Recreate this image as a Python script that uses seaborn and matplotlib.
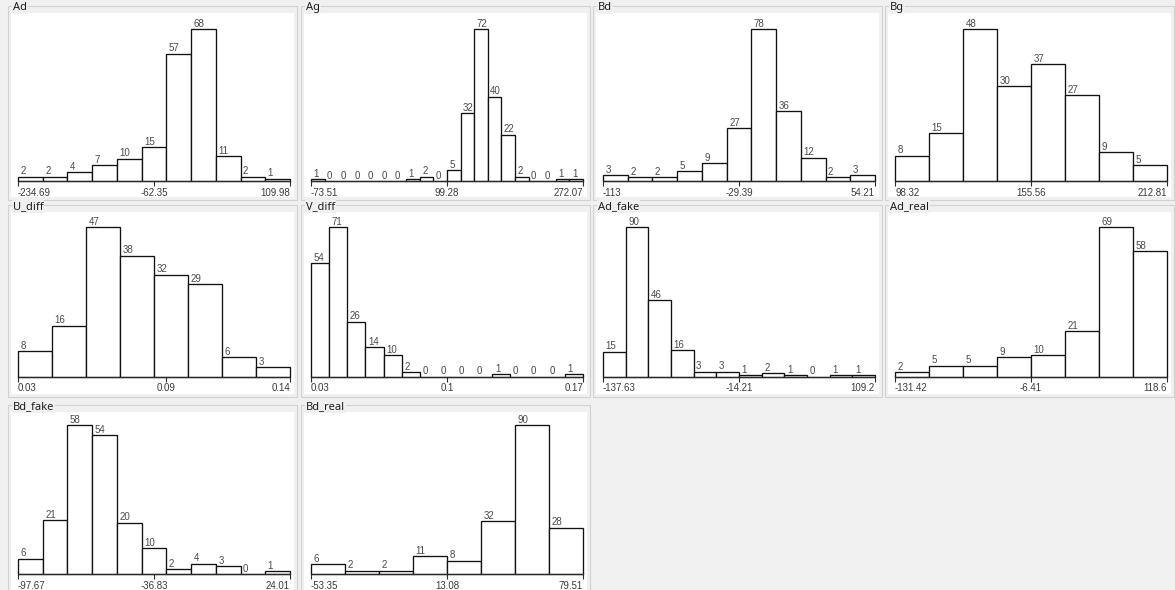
import numpy as np
import pandas as pd
import matplotlib
matplotlib.use("Agg")
import matplotlib.pyplot as plt
from matplotlib.patches import Rectangle
import seaborn as sns

# ---------------- data ----------------
titles = ["Ad", "Ag", "Bd", "Bg", "U_diff", "V_diff", "Ad_fake", "Ad_real", "Bd_fake", "Bd_real"]

ad_counts = [2, 2, 4, 7, 10, 15, 57, 68, 11, 2, 1]
ag_counts = [1, 0, 0, 0, 0, 0, 0, 1, 2, 0, 5, 32, 72, 40, 22, 2, 0, 0, 1, 1]
bd_counts = [3, 2, 2, 5, 9, 27, 78, 36, 12, 2, 3]
bg_counts = [8, 15, 48, 30, 37, 27, 9, 5]
u_diff_counts = [8, 16, 47, 38, 32, 29, 6, 3]
v_diff_counts = [54, 71, 26, 14, 10, 2, 0, 0, 0, 0, 1, 0, 0, 0, 1]
ad_fake_counts = [15, 90, 46, 16, 3, 3, 1, 2, 1, 0, 1, 1]
ad_real_counts = [2, 5, 5, 9, 10, 21, 69, 58]
bd_fake_counts = [6, 21, 58, 54, 20, 10, 2, 4, 3, 0, 1]
bd_real_counts = [6, 2, 2, 11, 8, 32, 90, 28]

ad_ticks = ["-234.69", "-62.35", "109.98"]
ag_ticks = ["-73.51", "99.28", "272.07"]
bd_ticks = ["-113", "-29.39", "54.21"]
bg_ticks = ["98.32", "155.56", "212.81"]
u_diff_ticks = ["0.03", "0.09", "0.14"]
v_diff_ticks = ["0.03", "0.1", "0.17"]
ad_fake_ticks = ["-137.63", "-14.21", "109.2"]
ad_real_ticks = ["-131.42", "-6.41", "118.6"]
bd_fake_ticks = ["-97.67", "-36.83", "24.01"]
bd_real_ticks = ["-53.35", "13.08", "79.51"]

all_counts = [ad_counts, ag_counts, bd_counts, bg_counts, u_diff_counts,
              v_diff_counts, ad_fake_counts, ad_real_counts, bd_fake_counts, bd_real_counts]
all_ticks = [ad_ticks, ag_ticks, bd_ticks, bg_ticks, u_diff_ticks,
             v_diff_ticks, ad_fake_ticks, ad_real_ticks, bd_fake_ticks, bd_real_ticks]

# ---------------- style ----------------
sns.set_style("white")
plt.rcParams["font.family"] = ["Liberation Sans", "DejaVu Sans"]

W, H = 1175, 590
BG = "#f0f0f0"
fig = plt.figure(figsize=(W / 100, H / 100), dpi=100, facecolor=BG)


def fx(x):
    return x / W


def fy(y):
    return 1 - y / H


# layout in pixels
col_left = [8, 301, 593, 885]
box_w = 289
row_top = [6, 205, 405]
row_bottom = [200, 397, 600]
row_axis = [181, 376.5, 574]
row_maxtop = [29, 227, 425]

for idx, (title, counts, ticks) in enumerate(zip(titles, all_counts, all_ticks)):
    r, c = divmod(idx, 4)
    bl = col_left[c]
    br = bl + box_w
    top = row_top[r]
    bot = row_bottom[r]

    # group box
    fig.add_artist(Rectangle((fx(bl), fy(bot)), fx(br) - fx(bl), fy(top) - fy(bot),
                             transform=fig.transFigure, facecolor=BG,
                             edgecolor="#d2d2d2", lw=0.8, zorder=-3))
    # white canvas
    fig.add_artist(Rectangle((fx(bl + 3), fy(bot - 3)), fx(br - 3) - fx(bl + 3),
                             fy(top + 7) - fy(bot - 3),
                             transform=fig.transFigure, facecolor="white",
                             edgecolor="none", zorder=-2))
    # title on the border
    fig.text(fx(bl + 5), fy(top + 4), title, ha="left", va="baseline",
             fontsize=8, color="#1e1e1e", family=["Noto Sans", "DejaVu Sans"],
             bbox=dict(facecolor=BG, edgecolor="none", pad=0.6), zorder=5)

    # plot axes: exactly the bar area
    x0, x1 = bl + 10, br - 7
    y_axis, y_top = row_axis[r], row_maxtop[r]
    ax = fig.add_axes([fx(x0), fy(y_axis), fx(x1) - fx(x0), fy(y_top) - fy(y_axis)])
    ax.set_facecolor("none")

    lo, mid, hi = (float(t) for t in ticks)
    n = len(counts)
    edges = np.linspace(lo, hi, n + 1)
    df = pd.DataFrame({"center": (edges[:-1] + edges[1:]) / 2,
                       "count": np.asarray(counts, dtype=float)})

    sns.histplot(data=df, x="center", weights="count", bins=n, binrange=(lo, hi),
                 ax=ax, color="white", edgecolor="#111111", linewidth=0.95, alpha=1)
    for p in ax.patches:
        p.set_clip_on(False)

    for i, v in enumerate(counts):
        ax.annotate(str(v), (edges[i], v), xytext=(1.8, 0.2), textcoords="offset points",
                    ha="left", va="bottom", fontsize=7, color="#4a4a4a",
                    annotation_clip=False)

    ax.set_xlim(lo, hi)
    ax.set_ylim(0, max(counts))
    ax.set_xlabel("")
    ax.set_ylabel("")
    ax.set_yticks([])
    for s in ["top", "left", "right"]:
        ax.spines[s].set_visible(False)
    ax.spines["bottom"].set_color("#2a2a2a")
    ax.spines["bottom"].set_linewidth(0.9)
    ax.set_xticks([lo, mid, hi])
    labs = ax.set_xticklabels(ticks, fontsize=7, color="#3a3a3a")
    labs[0].set_ha("left")
    labs[1].set_ha("center")
    labs[2].set_ha("right")
    ax.tick_params(axis="x", length=3.5, width=0.8, color="#2a2a2a", pad=1.5,
                   direction="out", bottom=True)

fig.savefig("out.png", dpi=100, facecolor=BG)
